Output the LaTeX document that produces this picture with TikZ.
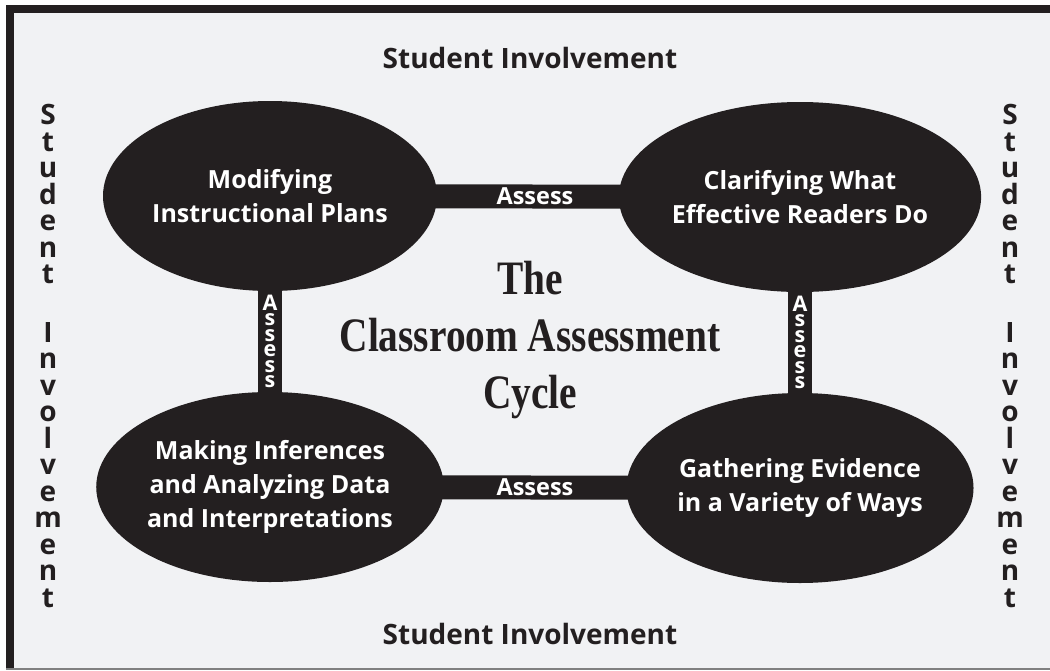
\documentclass[tikz,border=0pt]{standalone}
\usepackage{fontspec}
\setmainfont{Open Sans}
\newfontfamily\titlefont[FakeStretch=0.82]{Liberation Serif}
\usetikzlibrary{shapes.geometric,backgrounds}
\definecolor{ink}{HTML}{231F20}
\definecolor{paper}{HTML}{F1F2F4}
\begin{document}
\begin{tikzpicture}[x=1pt,y=-1pt,line join=round,
  stage/.style={ellipse,fill=ink,text=white,minimum width=334pt,minimum height=190pt,
    inner sep=0pt,align=center,font=\bfseries\fontsize{25}{34}\selectfont},
  link/.style={draw=ink,line width=24pt},
  tag/.style={text=white,inner sep=0pt,font=\bfseries\fontsize{23.5}{23.5}\selectfont},
  tagv/.style={text=white,inner sep=0pt,align=center,font=\bfseries\fontsize{21.5}{15.5}\selectfont},
  side/.style={text=ink,inner sep=0pt,align=center,font=\bfseries\fontsize{28}{26.5}\selectfont}]
	% Frame
	\useasboundingbox (0,0) rectangle (1050,670);
	% Four stages of the cycle
	\node[stage] (plan) at (270,196) {Modifying\\Instructional Plans};
	\node[stage] (clar) at (800,197) {Clarifying What\\Effective Readers Do};
	\node[stage] (infer) at (270,487) {Making Inferences\\and Analyzing Data\\and Interpretations};
	\node[stage] (evid) at (800,488) {Gathering Evidence\\in a Variety of Ways};
	% Title
	\node[text=ink,align=center,font=\titlefont\bfseries\fontsize{48}{57}\selectfont] (title) at (530,340)
		{The\\Classroom Assessment\\Cycle};
	% Student involvement all round
	\node[side] (stop) at (530,58) {Student Involvement};
	\node[side] (sbot) at (530,634) {Student Involvement};
	\node[side] (sleft) at (48,356) {S\\t\\u\\d\\e\\n\\t\\[32pt]I\\n\\v\\o\\l\\v\\e\\m\\e\\n\\t};
	\node[side] (sright) at (1010,356) {S\\t\\u\\d\\e\\n\\t\\[32pt]I\\n\\v\\o\\l\\v\\e\\m\\e\\n\\t};
	\begin{pgfonlayer}{background}
		\fill[white] (0,0) rectangle (1050,670);
		\fill[paper] (6,5) rectangle (1050,668);
		\fill[ink] (6,5) rectangle (1050,13);
		\fill[ink] (6,5) rectangle (14,668);
		\fill[gray] (6,667.5) rectangle (1050,669.5);
		% Assess links
		\draw[link] (plan.center) -- (clar.center) node[tag,midway] (atop) {Assess};
		\draw[link] (infer.center) -- (evid.center) node[tag,midway] (abot) {Assess};
		\draw[link] (plan.center) -- (infer.center) node[tagv,midway] (aleft) {A\\s\\s\\e\\s\\s};
		\draw[link] (clar.center) -- (evid.center) node[tagv,midway] (aright) {A\\s\\s\\e\\s\\s};
	\end{pgfonlayer}
\end{tikzpicture}
\end{document}
